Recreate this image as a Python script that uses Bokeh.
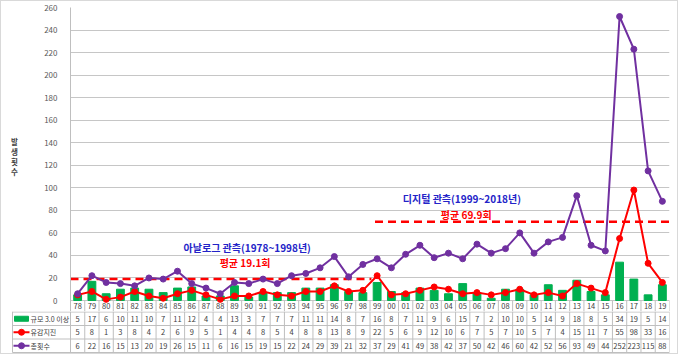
from bokeh.plotting import figure
from bokeh.layouts import column, row
from bokeh.models import Range1d, FixedTicker, Label
from bokeh.embed import file_html
from bokeh.resources import INLINE
from bokeh.core.properties import value

# ---------------- data ----------------
years = ["78", "79", "80", "81", "82", "83", "84", "85", "86", "87", "88", "89",
         "90", "91", "92", "93", "94", "95", "96", "97", "98", "99",
         "00", "01", "02", "03", "04", "05", "06", "07", "08", "09",
         "10", "11", "12", "13", "14", "15", "16", "17", "18", "19"]
big = [5, 17, 6, 10, 11, 10, 7, 11, 12, 4, 4, 13,
       3, 7, 7, 7, 11, 11, 14, 8, 7, 16,
       8, 7, 11, 9, 6, 15, 7, 2, 10, 10,
       5, 14, 9, 18, 8, 5, 34, 19, 5, 14]
felt = [5, 8, 1, 3, 8, 4, 2, 6, 9, 5, 1, 4,
        4, 8, 5, 4, 8, 8, 13, 8, 9, 22,
        5, 6, 9, 12, 10, 6, 7, 5, 7, 10,
        5, 7, 4, 15, 11, 7, 55, 98, 33, 16]
total = [6, 22, 16, 15, 13, 20, 19, 26, 15, 11, 6, 16,
         15, 19, 15, 22, 24, 29, 39, 21, 32, 37,
         29, 41, 49, 38, 42, 37, 50, 42, 46, 60,
         42, 52, 56, 93, 49, 44, 252, 223, 115, 88]
series_names = ["규모 3.0 이상", "유감지진", "총횟수"]
period_names = ["아날로그 관측(1978~1998년)", "디지털 관측(1999~2018년)"]
period_avg = [19.1, 69.9]
avg_labels = ["평균 19.1회", "평균 69.9회"]
y_title = "발생횟수"
yticks = list(range(0, 261, 20))

GREEN = "#00b050"
RED = "#ff0000"
PURPLE = "#7030a0"
BLUE = "#2323c8"
FONT = "Noto Sans CJK KR"
GRID = "#c6c6c6"
TL = "#bfbfbf"
TXT = "#404040"

n = len(years)
xs = list(range(n))

# ---------------- y title strip ----------------
yt = figure(width=27, height=310, x_range=Range1d(0, 27), y_range=Range1d(310, 0),
            x_axis_type=None, y_axis_type=None, output_backend="svg", toolbar_location=None,
            min_border_left=0, min_border_right=0, min_border_top=0, min_border_bottom=0)
yt.outline_line_color = None
chars = list(y_title)
yt.text(x=[13] * len(chars), y=[137 + 10 * i for i in range(len(chars))], text=chars,
        text_font=value(FONT), text_font_style="bold", text_font_size="7.5px", text_color=TXT,
        text_align="center", text_baseline="middle")

# ---------------- chart (with category row) ----------------
ppu = 293 / 260          # pixels per unit
y_bottom = -11 / ppu     # room for category row
p = figure(width=649, height=310, x_range=Range1d(-0.5, n - 0.5), y_range=Range1d(y_bottom, 260),
           x_axis_type=None, output_backend="svg", toolbar_location=None,
           min_border_left=42, min_border_right=8, min_border_top=6, min_border_bottom=0)
p.outline_line_color = None
p.yaxis.ticker = FixedTicker(ticks=yticks)
p.yaxis.major_tick_line_color = None
p.yaxis.minor_tick_line_color = None
p.yaxis.axis_line_color = TL
p.yaxis.major_label_text_font = FONT
p.yaxis.major_label_text_font_size = "8px"
p.yaxis.major_label_text_color = "#595959"
p.yaxis.major_label_standoff = 7
p.ygrid.grid_line_color = GRID
p.ygrid.ticker = FixedTicker(ticks=yticks)

p.vbar(x=xs, top=big, width=0.55, color=GREEN)

p.segment(x0=[-0.5, 20.85], x1=[20.6, n - 0.5], y0=period_avg, y1=period_avg,
          line_color=RED, line_width=2.5, line_dash="8 5")

p.line(xs, felt, line_color=RED, line_width=2)
p.scatter(xs, felt, size=6, color=RED)
p.line(xs, total, line_color=PURPLE, line_width=2)
p.scatter(xs, total, size=6, color=PURPLE)

for txt, xx, yy, col in [(period_names[0], 11.89, 46.6, BLUE),
                         (avg_labels[0], 11.74, 33.3, RED),
                         (period_names[1], 26.94, 90.5, BLUE),
                         (avg_labels[1], 27.25, 76.3, RED)]:
    p.add_layout(Label(x=xx, y=yy, text=txt, text_align="center", text_baseline="middle",
                       text_font=FONT, text_font_style="bold", text_font_size="10px",
                       text_color=col))

# category row of the data table
p.segment(x0=[k - 0.5 for k in range(n + 1)], x1=[k - 0.5 for k in range(n + 1)],
          y0=[0] * (n + 1), y1=[y_bottom] * (n + 1), line_color=TL, line_width=1)
p.text(x=xs, y=[y_bottom / 2] * n, text=years, text_font=value(FONT),
       text_font_size="7.5px", text_color=TXT, text_align="center", text_baseline="middle")

# ---------------- data table (value rows) ----------------
scale = 599 / n
x_start = (n - 0.5) - 661 / scale
t = figure(width=676, height=42, x_range=Range1d(x_start, n - 0.5), y_range=Range1d(42, 0),
           x_axis_type=None, y_axis_type=None, output_backend="svg", toolbar_location=None,
           min_border_left=7, min_border_right=8, min_border_top=0, min_border_bottom=0)
t.outline_line_color = None


def px2x(px):
    return x_start + (px - 8) / scale


rows = [0.5, 14, 27.5, 41]
centers = [(rows[i] + rows[i + 1]) / 2 for i in range(3)]
left = px2x(12)
t.segment(x0=[left] * 4, x1=[n - 0.5] * 4, y0=rows, y1=rows, line_color=TL, line_width=1)
vx = [k - 0.5 for k in range(n + 1)] + [left]
t.segment(x0=vx, x1=vx, y0=[0] * len(vx), y1=[rows[-1]] * len(vx), line_color=TL, line_width=1)

for vals, yy in [(big, centers[0]), (felt, centers[1]), (total, centers[2])]:
    t.text(x=xs, y=[yy] * n, text=[str(v) for v in vals], text_font=value(FONT),
           text_font_size="7.5px", text_color=TXT, text_align="center", text_baseline="middle")

# legend keys
t.rect(x=[px2x(21)], y=[centers[0]], width=14, height=5, width_units="screen", height_units="screen",
       color=GREEN)
for yy, col in [(centers[1], RED), (centers[2], PURPLE)]:
    t.segment(x0=[px2x(13)], x1=[px2x(29)], y0=[yy], y1=[yy], line_color=col, line_width=2)
    t.scatter([px2x(21)], [yy], size=6, color=col)
t.text(x=[px2x(30)] * 3, y=centers, text=series_names, text_font=value(FONT),
       text_font_size="7px", text_color=TXT, text_align="left", text_baseline="middle")

layout = column(row(yt, p, spacing=0), t, spacing=0,
                styles={"border": "1px solid #d9d9d9"})
open("out.html", "w").write(file_html(layout, INLINE))
